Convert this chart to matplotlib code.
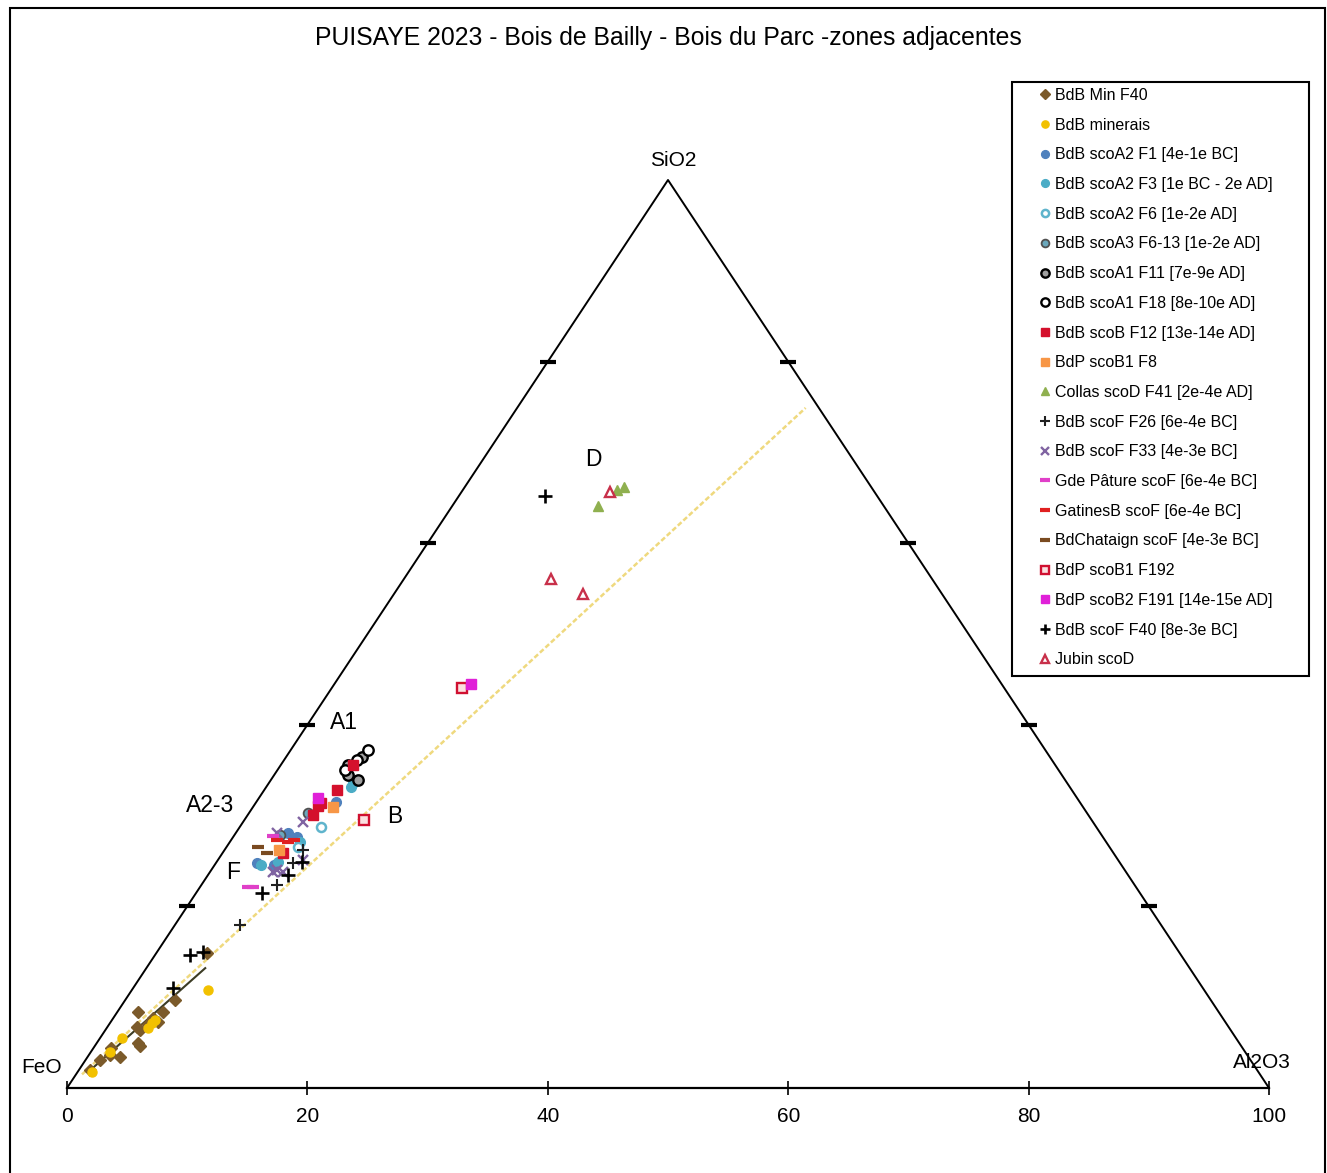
import numpy as np
import matplotlib
matplotlib.use("Agg")
import matplotlib.pyplot as plt
from matplotlib.patches import Rectangle

plt.rcParams['font.family'] = ['Liberation Sans', 'DejaVu Sans']

# ternary compositions (% SiO2, % Al2O3, rest = FeO)
min_f40_sio2 = [9.7, 8.4, 7.7, 8.4, 6.7, 6.4, 5.0, 4.6, 4.4, 3.4, 3.1, 2.0, 3.6, 7.3, 14.9, 7.1]
min_f40_al2o3 = [4.1, 3.8, 3.3, 1.7, 2.5, 2.9, 3.4, 3.8, 1.5, 2.7, 1.2, 0.9, 1.8, 3.9, 4.2, 3.2]
minerais_sio2 = [5.5, 7.2, 7.5, 1.8, 10.8, 6.6, 4.0]
minerais_al2o3 = [1.8, 3.5, 3.6, 1.2, 6.3, 3.4, 1.6]
a2_f1_sio2 = [28.1, 24.8, 24.6, 31.5, 27.6]
a2_f1_al2o3 = [4.3, 3.4, 4.9, 6.6, 5.3]
a2_f3_sio2 = [33.2, 33.6, 24.6, 24.9, 27.1]
a2_f3_al2o3 = [7.0, 7.0, 3.8, 5.1, 5.8]
a2_f6_sio2 = [28.7, 26.5]
a2_f6_al2o3 = [6.8, 6.0]
a3_sio2 = [30.3, 27.9]
a3_al2o3 = [4.9, 3.8]
a1_f11_sio2 = [36.5, 35.6, 34.5, 33.9]
a1_f11_al2o3 = [6.3, 5.6, 6.1, 7.3]
a1_f18_sio2 = [37.2, 36.1, 35.0]
a1_f18_al2o3 = [6.4, 6.1, 5.6]
b_f12_sio2 = [35.6, 32.8, 31.4, 31.1, 25.9, 30.1]
b_f12_al2o3 = [6.0, 6.1, 5.4, 5.3, 5.0, 5.4]
bdp_f8_sio2 = [31.0, 26.2]
bdp_f8_al2o3 = [6.6, 4.5]
collas_sio2 = [64.1, 65.9, 66.2]
collas_al2o3 = [12.1, 12.8, 13.2]
f26_sio2 = [26.2, 24.8, 22.4, 18.0]
f26_al2o3 = [6.5, 6.4, 6.3, 5.4]
f33_sio2 = [29.3, 23.8, 24.0, 23.8, 28.1, 25.1]
f33_al2o3 = [5.0, 5.2, 5.5, 6.1, 3.4, 7.1]
gde_sio2 = [22.1, 22.1, 27.8]
gde_al2o3 = [4.0, 4.4, 3.2]
gatines_sio2 = [27.3, 27.1, 27.3]
gatines_al2o3 = [3.8, 4.8, 5.2]
chataign_sio2 = [26.5, 25.9]
chataign_al2o3 = [2.6, 3.7]
f192_sio2 = [44.1, 29.5]
f192_al2o3 = [10.8, 10.0]
f191_sio2 = [44.5, 31.9]
f191_al2o3 = [11.4, 4.9]
f40_sio2 = [65.2, 24.9, 23.5, 21.5, 14.7, 15.0, 11.0]
f40_al2o3 = [7.2, 7.1, 6.6, 5.5, 2.9, 3.8, 3.3]
jubin_sio2 = [65.6, 56.1, 54.4]
jubin_al2o3 = [12.4, 12.2, 15.7]

# reference lines (SiO2/Al2O3 ~ 3 line, and trend near FeO)
ratio_line_sio2 = [1.5, 74.9]
ratio_line_al2o3 = [0.5, 24.0]
trend_sio2 = [1.8, 13.2]
trend_al2o3 = [0.9, 4.9]

H = np.sqrt(3) / 2 * 100


def tern(sio2, al2o3):
    s = np.asarray(sio2, float)
    a = np.asarray(al2o3, float)
    return a + s / 2, s / 100 * H


series = [
    ("BdB Min F40", min_f40_sio2, min_f40_al2o3, dict(marker='D', color='#7b5a2a', ms=6)),
    ("BdB minerais", minerais_sio2, minerais_al2o3, dict(marker='o', color='#f2c100', ms=6.5)),
    ("BdB scoA2 F1 [4e-1e BC]", a2_f1_sio2, a2_f1_al2o3, dict(marker='o', color='#4f81bd', ms=7)),
    ("BdB scoA2 F3 [1e BC - 2e AD]", a2_f3_sio2, a2_f3_al2o3, dict(marker='o', color='#4bacc6', ms=7)),
    ("BdB scoA2 F6 [1e-2e AD]", a2_f6_sio2, a2_f6_al2o3,
     dict(marker='o', mfc='white', mec='#5fb4cc', mew=1.8, ms=6.5)),
    ("BdB scoA3 F6-13 [1e-2e AD]", a3_sio2, a3_al2o3,
     dict(marker='o', mfc='#6aa8bc', mec='#505050', mew=1.3, ms=7)),
    ("BdB scoA1 F11 [7e-9e AD]", a1_f11_sio2, a1_f11_al2o3,
     dict(marker='o', mfc='#a0a0a0', mec='black', mew=1.7, ms=7.5)),
    ("BdB scoA1 F18 [8e-10e AD]", a1_f18_sio2, a1_f18_al2o3,
     dict(marker='o', mfc='white', mec='black', mew=1.7, ms=7.5)),
    ("BdB scoB F12 [13e-14e AD]", b_f12_sio2, b_f12_al2o3, dict(marker='s', color='#d4102c', ms=7.5)),
    ("BdP scoB1 F8", bdp_f8_sio2, bdp_f8_al2o3, dict(marker='s', color='#f79646', ms=7.5)),
    ("Collas scoD F41 [2e-4e AD]", collas_sio2, collas_al2o3, dict(marker='^', color='#8fb04f', ms=7)),
    ("BdB scoF F26 [6e-4e BC]", f26_sio2, f26_al2o3, dict(marker='+', color='#202020', ms=9, mew=1.5)),
    ("BdB scoF F33 [4e-3e BC]", f33_sio2, f33_al2o3, dict(marker='x', color='#8064a2', ms=7.5, mew=1.7)),
    ("Gde Pâture scoF [6e-4e BC]", gde_sio2, gde_al2o3, dict(marker='_', color='#e040c8', ms=8.5, mew=3)),
    ("GatinesB scoF [6e-4e BC]", gatines_sio2, gatines_al2o3, dict(marker='_', color='#e02020', ms=8.5, mew=3)),
    ("BdChataign scoF [4e-3e BC]", chataign_sio2, chataign_al2o3, dict(marker='_', color='#7a4a20', ms=8.5, mew=3)),
    ("BdP scoB1 F192", f192_sio2, f192_al2o3,
     dict(marker='s', mfc='#fbe0e0', mec='#d01030', mew=1.7, ms=7.5)),
    ("BdP scoB2 F191 [14e-15e AD]", f191_sio2, f191_al2o3, dict(marker='s', color='#e020d8', ms=7.5)),
    ("BdB scoF F40 [8e-3e BC]", f40_sio2, f40_al2o3, dict(marker='+', color='black', ms=9.5, mew=1.9)),
    ("Jubin scoD", jubin_sio2, jubin_al2o3,
     dict(marker='^', mfc='white', mec='#c8304a', mew=1.7, ms=7)),
]

fig = plt.figure(figsize=(13.27, 11.73), dpi=100)
ax = fig.add_axes([67 / 1327, 85 / 1173, 1202 / 1327, 908 / 1173])
ax.set_xlim(0, 100)
ax.set_ylim(0, H)

# triangle sides
ax.plot([0, 50, 100], [0, H, 0], color='black', lw=1.4, clip_on=False, zorder=2)
tick_s = np.array([20, 40, 60, 80])
lx, ly = tern(tick_s, np.zeros(4))
rx, ry = tern(tick_s, 100 - tick_s)
ax.plot(lx, ly, ls='none', marker='_', ms=11, mew=3, color='black', clip_on=False)
ax.plot(rx, ry, ls='none', marker='_', ms=11, mew=3, color='black', clip_on=False)

# reference lines
x, y = tern(ratio_line_sio2, ratio_line_al2o3)
ax.plot(x, y, color='#efd97e', lw=1.8, ls=(0, (2, 1)), zorder=1)
x, y = tern(trend_sio2, trend_al2o3)
ax.plot(x, y, color='#3c3c24', lw=1.5, zorder=1)

for name, si, al, st in series:
    x, y = tern(si, al)
    ax.plot(x, y, ls='none', label=name, clip_on=False, zorder=3, **st)

for s in ['left', 'right', 'top']:
    ax.spines[s].set_visible(False)
ax.spines['bottom'].set_linewidth(1.6)
ax.set_yticks([])
ax.set_xticks([0, 20, 40, 60, 80, 100])
ax.tick_params(axis='x', direction='inout', length=10, width=1.2, labelsize=15, pad=9)

# vertex labels
ax.text(50.4, 88.5, "SiO2", ha='center', va='center', fontsize=15)
ax.text(-2.1, 2.0, "FeO", ha='center', va='center', fontsize=15)
ax.text(99.4, 2.4, "Al2O3", ha='center', va='center', fontsize=15)

# zone labels
for lab, zx, zy in [("D", 43.8, 59.9), ("A1", 23.0, 34.9), ("A2-3", 11.9, 26.9),
                    ("B", 27.3, 25.85), ("F", 13.8, 20.6)]:
    ax.text(zx, zy, lab, ha='center', va='center', fontsize=16.5)

fig.text(668 / 1327, 1 - 38 / 1173, "PUISAYE 2023 - Bois de Bailly - Bois du Parc -zones adjacentes",
         ha='center', va='center', fontsize=17.8)

fig.legend(loc='upper left', bbox_to_anchor=(1039 / 1327, 1 - 88 / 1173), frameon=False,
           fontsize=11.5, handlelength=0.8, handletextpad=0.2, borderpad=0, borderaxespad=0,
           labelspacing=0.92, numpoints=1, markerscale=0.8)
fig.add_artist(Rectangle((1012 / 1327, 1 - 676 / 1173), 297 / 1327, 594 / 1173,
                         transform=fig.transFigure, fill=False, lw=1.5, ec='black'))
fig.add_artist(Rectangle((10 / 1327, -0.02), 1315 / 1327, 1.02 - 8 / 1173,
                         transform=fig.transFigure, fill=False, lw=1.5, ec='black'))

fig.savefig("out.png", dpi=100)
